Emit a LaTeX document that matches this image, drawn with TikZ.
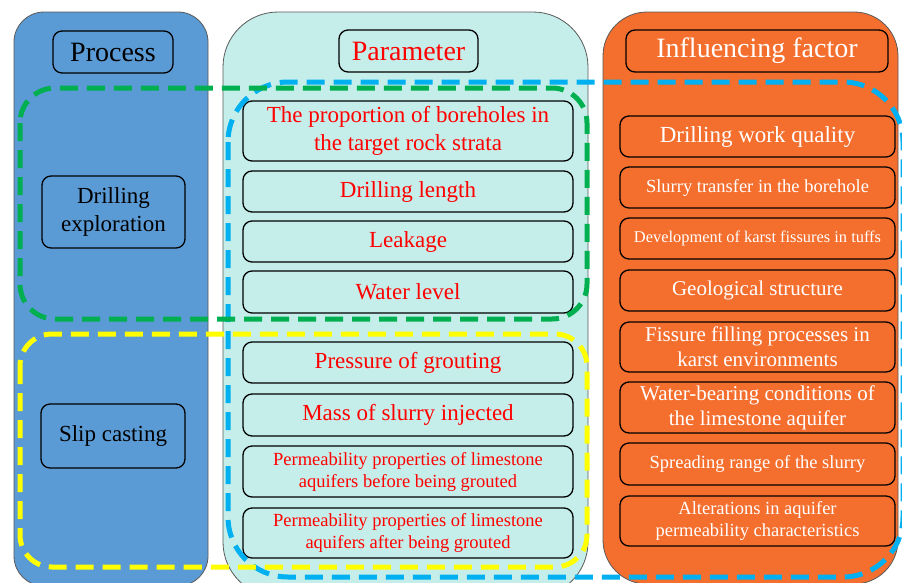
\documentclass[tikz,border=0pt]{standalone}
\usepackage{fontspec}
\setmainfont{Liberation Serif}
\newfontfamily\timesfont{Liberation Serif}
\usepackage{tikz}
\usetikzlibrary{shapes,arrows,positioning}
\definecolor{procblue}{RGB}{91,155,213}
\definecolor{paramcyan}{RGB}{197,238,234}
\definecolor{factorange}{RGB}{244,110,46}
\definecolor{grnline}{RGB}{0,176,80}
\definecolor{yelline}{RGB}{255,255,0}
\definecolor{bluline}{RGB}{0,176,240}
\tikzstyle{panel} = [draw=black!65, line width=0.8pt]
\tikzstyle{box} = [draw, rounded corners=9pt, line width=1.3pt, align=center, inner sep=0pt]
\tikzstyle{pnode} = [box, minimum width=330pt, text=red]
\tikzstyle{fnode} = [box, minimum width=275pt, text=white]
\tikzstyle{frame} = [line width=5pt, dash pattern=on 18pt off 9pt]
\tikzstyle{hfont} = [font=\timesfont\fontsize{28}{33}\selectfont]
\tikzstyle{bigfont} = [font=\timesfont\fontsize{23}{28}\selectfont]
\tikzstyle{midfont} = [font=\timesfont\fontsize{21}{25}\selectfont]
\tikzstyle{smallfont} = [font=\timesfont\fontsize{18.5}{22}\selectfont]
\tikzstyle{tinyfont} = [font=\timesfont\fontsize{16.4}{20}\selectfont]

\begin{document}
\begin{tikzpicture}[x=1pt, y=-1pt]
			\useasboundingbox (0,0) rectangle (902,582);
			\clip (0,0) rectangle (902,582);
			\path [panel, fill=procblue, rounded corners=30pt] (14,12) rectangle (208,586);
			\path [panel, fill=paramcyan, rounded corners=55pt] (223,12) rectangle (588,597);
			\path [panel, fill=factorange, rounded corners=44pt] (603,12) rectangle (898,584);

			\node [box, minimum width=120pt, minimum height=42pt, hfont] (process) at (113,52) {Process};
			\node [box, minimum width=139pt, minimum height=42pt, hfont, text=red] (parameter) at (408.5,51) {Parameter};
			\node [box, minimum width=262pt, minimum height=42pt, hfont, text=white] (factor) at (757,51) {Influencing factor};
			\node [box, minimum width=143pt, minimum height=72pt, bigfont] (drilling) at (113.5,212) {Drilling\\exploration};
			\node [box, minimum width=144pt, minimum height=64pt, bigfont] (slip) at (113,436) {Slip casting};

			\node [pnode, minimum height=60pt, bigfont] (proportion) at (408,131) {The proportion of boreholes in\\the target rock strata};
			\node [pnode, minimum height=41pt, bigfont] (length) at (408,191.5) {Drilling length};
			\node [pnode, minimum height=41pt, bigfont] (leakage) at (408,241.5) {Leakage};
			\node [pnode, minimum height=42pt, bigfont] (level) at (408,292) {Water level};
			\node [pnode, minimum height=41pt, bigfont] (pressure) at (408,362.5) {Pressure of grouting};
			\node [pnode, minimum height=42pt, bigfont] (mass) at (408,415) {Mass of slurry injected};
			\node [pnode, minimum height=51pt, smallfont] (before) at (408,471.5) {Permeability properties of limestone\\aquifers before being grouted};
			\node [pnode, minimum height=50pt, smallfont] (after) at (408,533) {Permeability properties of limestone\\aquifers after being grouted};

			\node [fnode, minimum height=41pt, bigfont] (quality) at (757.5,136.5) {Drilling work quality};
			\node [fnode, minimum height=41pt, smallfont] (transfer) at (757.5,187.5) {Slurry transfer in the borehole};
			\node [fnode, minimum height=41pt, tinyfont] (karst) at (757.5,238.5) {Development of karst fissures in tuffs};
			\node [fnode, minimum height=41pt, midfont] (geology) at (757.5,290.5) {Geological structure};
			\node [fnode, minimum height=50pt, midfont] (filling) at (757.5,347) {Fissure filling processes in\\karst environments};
			\node [fnode, minimum height=51pt, midfont] (water) at (757.5,407.5) {Water-bearing conditions of\\the limestone aquifer};
			\node [fnode, minimum height=42pt, smallfont] (spreading) at (757.5,464) {Spreading range of the slurry};
			\node [fnode, minimum height=50pt, smallfont] (alteration) at (757.5,521) {Alterations in aquifer\\permeability characteristics};

			\draw [frame, draw=bluline, rounded corners=60pt] (228,82) rectangle (903,577);
			\draw [frame, draw=grnline, rounded corners=35pt] (20,88) rectangle (587,319);
			\draw [frame, draw=yelline, rounded corners=32pt] (20,334) rectangle (587,567);
		\end{tikzpicture}
\end{document}
